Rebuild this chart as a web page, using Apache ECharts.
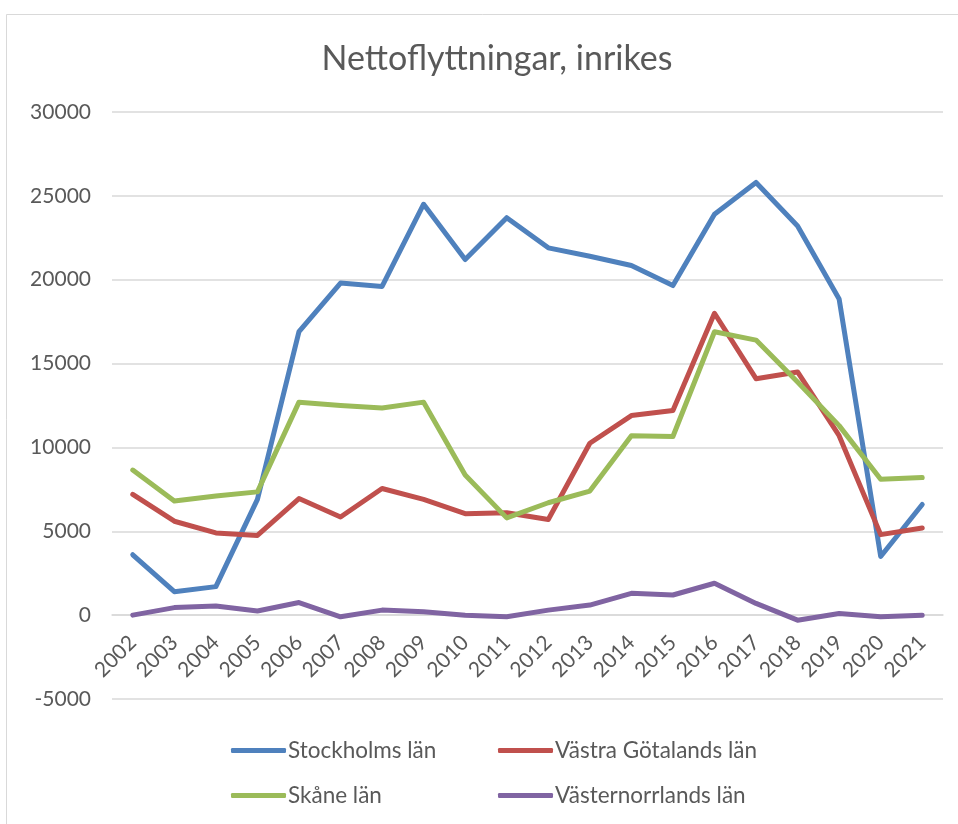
<!DOCTYPE html>
<html>
<head>
<meta charset="utf-8">
<script src="https://cdn.jsdelivr.net/npm/echarts@6/dist/echarts.min.js"></script>
<style>html,body{margin:0;padding:0;background:#fff;}#main{width:958px;height:824px;}</style>
</head>
<body>
<div id="main"></div>
<script>
const years = ['2002','2003','2004','2005','2006','2007','2008','2009','2010','2011','2012','2013','2014','2015','2016','2017','2018','2019','2020','2021'];
const stockholm = [3600,1400,1700,6900,16900,19800,19600,24500,21200,23700,21900,21400,20850,19650,23900,25800,23200,18850,3500,6600];
const vastraGotaland = [7200,5600,4900,4750,6950,5850,7550,6900,6050,6100,5700,10250,11900,12200,18000,14100,14500,10700,4800,5200];
const skane = [8650,6800,7100,7350,12700,12500,12350,12700,8350,5800,6700,7400,10700,10650,16900,16400,13900,11300,8100,8200];
const vasternorrland = [0,450,550,250,750,-100,300,200,0,-100,300,600,1300,1200,1900,700,-300,100,-100,0];
const seriesNames = ['Stockholms län','Västra Götalands län','Skåne län','Västernorrlands län'];
const colors = ['#4F81BD','#C0504D','#9BBB59','#8064A2'];
const seriesData = [stockholm, vastraGotaland, skane, vasternorrland];
const yMin = -5000, yMax = 30000, yStep = 5000;

const font = 'Lato, "Open Sans", sans-serif';
const txt = '#595959';
const gridTop = 112, gridH = 587;
const zeroOffset = gridH * (0 - yMin) / (yMax - yMin);
const chart = echarts.init(document.getElementById('main'), null, {renderer:'canvas'});
const legendPos = [
  {left:231, top:739},
  {left:498, top:739},
  {left:231, top:784},
  {left:498, top:784}
];
chart.setOption({
  animation:false,
  backgroundColor:'#fff',
  graphic:[{type:'rect',shape:{x:6.5,y:14.5,width:1000,height:1000},style:{fill:'none',stroke:'#d9d9d9',lineWidth:1}}],
  title:{text:'Nettoflyttningar, inrikes',left:492,textAlign:'center',top:37,textStyle:{fontFamily:font,fontSize:34,fontWeight:'normal',color:txt}},
  legend: seriesNames.map((n,i)=>({
    data:[n], left:legendPos[i].left, top:legendPos[i].top,
    itemWidth:55, itemHeight:5, itemGap:0, padding:0,
    icon:'roundRect',
    textStyle:{fontFamily:font,fontSize:22.5,color:txt,padding:[0,0,0,-3]}
  })),
  grid:{left:112,top:gridTop,width:831,height:gridH,containLabel:false},
  xAxis:{
    type:'category', data:years, boundaryGap:true,
    offset:-zeroOffset,
    axisLine:{show:true,onZero:false,lineStyle:{color:'#d9d9d9',width:1.5}},
    axisTick:{show:false},
    axisLabel:{rotate:45,margin:24,fontFamily:font,fontSize:21,color:txt}
  },
  yAxis:{
    type:'value', min:yMin, max:yMax, interval:yStep,
    axisLine:{show:false}, axisTick:{show:false},
    axisLabel:{margin:21,fontFamily:font,fontSize:21,color:txt,formatter:v=>String(v)},
    splitLine:{lineStyle:{color:'#d9d9d9',width:1.5}}
  },
  series: seriesNames.map((n,i)=>({
    name:n, type:'line', data:seriesData[i], symbol:'none',
    lineStyle:{width:5,color:colors[i],cap:'round',join:'round'},
    itemStyle:{color:colors[i]}
  }))
});
</script>
</body>
</html>
